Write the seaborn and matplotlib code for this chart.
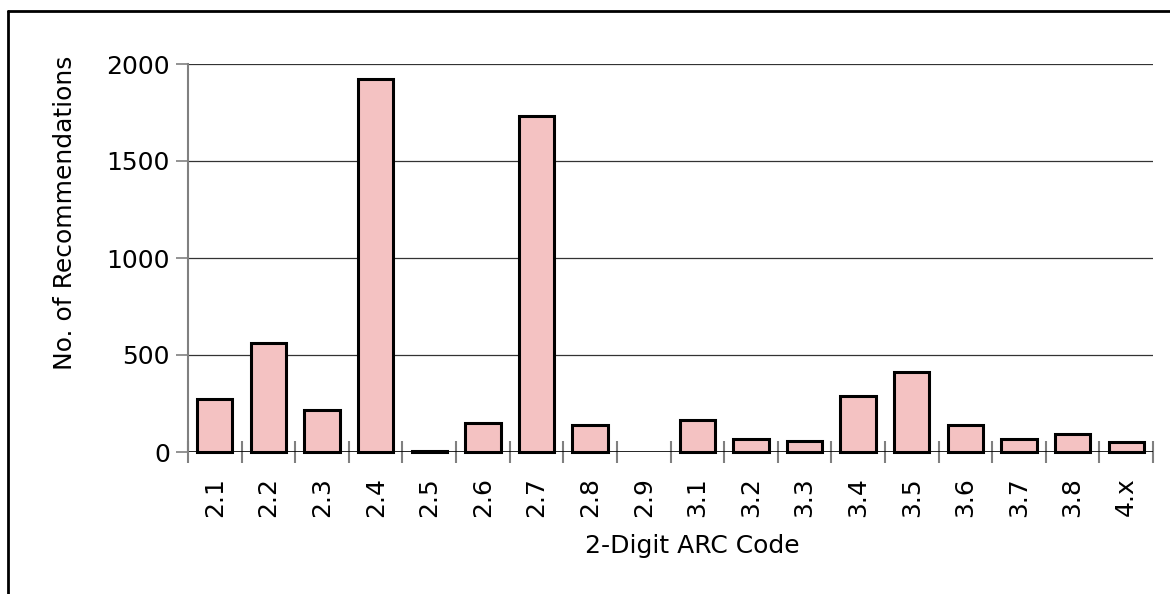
import matplotlib
matplotlib.use("Agg")
import matplotlib.pyplot as plt
from matplotlib.lines import Line2D
from matplotlib.ticker import FixedLocator
import pandas as pd
import seaborn as sns

# Data
codes = ["2.1", "2.2", "2.3", "2.4", "2.5", "2.6", "2.7", "2.8", "2.9",
         "3.1", "3.2", "3.3", "3.4", "3.5", "3.6", "3.7", "3.8", "4.x"]
counts = [273, 562, 218, 1925, 7, 152, 1730, 137, 0,
          163, 67, 55, 288, 412, 137, 67, 93, 52]
y_ticks = [0, 500, 1000, 1500, 2000]

df = pd.DataFrame({"code": codes, "count": counts})

sns.set_style("white")
plt.rcParams["font.family"] = ["DejaVu Sans"]
plt.rcParams["text.color"] = "black"
plt.rcParams["xtick.color"] = "black"
plt.rcParams["ytick.color"] = "black"

W, H = 1170, 594
fig = plt.figure(figsize=(W / 100, H / 100), dpi=100)
ax = fig.add_axes([188 / W, 1 - 452 / H, (1153 - 188) / W, (452 - 64) / H])

sns.barplot(data=df, x="code", y="count", ax=ax, color="#F4C2C2", saturation=1,
            edgecolor="black", linewidth=2.2, width=0.66, zorder=3)
for p in ax.patches:
    p.set_clip_on(False)
    # empty categories draw nothing
    if p.get_height() == 0:
        p.set_visible(False)

ax.set_xlim(-0.5, len(codes) - 0.5)
ax.set_ylim(0, 2000)
ax.set_yticks(y_ticks)
ax.set_yticklabels([str(v) for v in y_ticks], fontsize=18)

# gridlines
for v in y_ticks[1:]:
    ax.axhline(v, color="#333333", lw=0.9, zorder=1)
ax.axhline(0, color="black", lw=1.2, zorder=2)

# spines
for s in ["top", "right", "bottom"]:
    ax.spines[s].set_visible(False)
ax.spines["left"].set_color("#808080")
ax.spines["left"].set_linewidth(1.5)

# ticks
ax.tick_params(axis="y", left=True, length=9, width=1.2, color="#808080", pad=4,
               direction="out", labelcolor="black")
ax.tick_params(axis="x", which="major", bottom=True, length=0, pad=18, labelsize=18,
               labelrotation=90, labelcolor="black")
ax.xaxis.set_minor_locator(FixedLocator([i - 0.5 for i in range(len(codes) + 1)]))
ax.tick_params(axis="x", which="minor", bottom=True, length=16, width=1.5,
               color="#808080", direction="inout")

ax.set_xlabel("")
ax.set_ylabel("")
fig.text(692 / W, 1 - 546 / H, "2-Digit ARC Code", fontsize=18, ha="center", va="center")
fig.text(65 / W, 1 - 213 / H, "No. of Recommendations", fontsize=18, rotation=90,
         ha="center", va="center")

# outer frame (top and left edges visible)
fig.add_artist(Line2D([8 / W, 8 / W], [0, 1 - 11 / H], transform=fig.transFigure,
                      color="black", lw=2))
fig.add_artist(Line2D([8 / W, 1], [1 - 11 / H, 1 - 11 / H], transform=fig.transFigure,
                      color="black", lw=2))

fig.savefig("out.png", dpi=100, facecolor="white")
